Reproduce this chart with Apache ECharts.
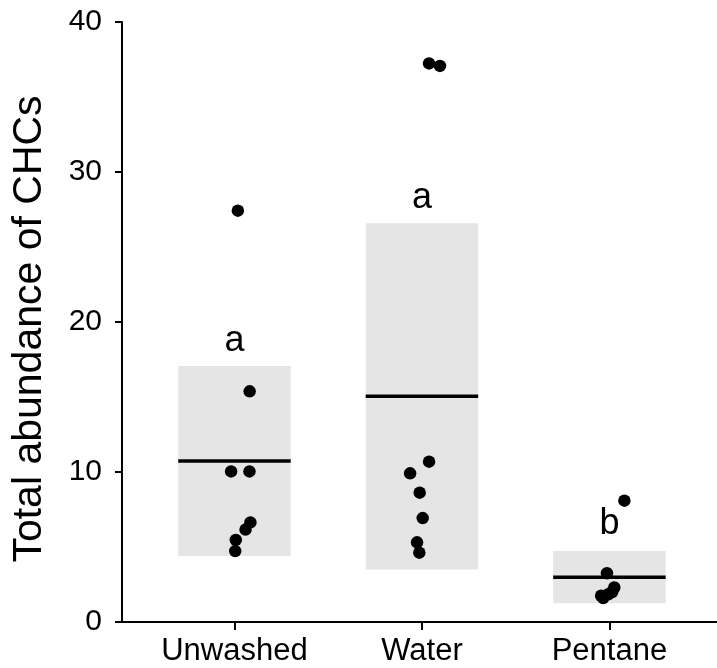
<!DOCTYPE html>
<html>
<head>
<meta charset="utf-8">
<title>Total abundance of CHCs</title>
<script src="https://cdn.jsdelivr.net/npm/echarts@6/dist/echarts.min.js"></script>
<style>
  html, body { margin: 0; padding: 0; background: #ffffff; }
  #chart { width: 717px; height: 668px; }
</style>
</head>
<body>
<div id="chart"></div>
<script>
// Treatment groups, in axis order (x positions 1, 2, 3)
const categories = ['Unwashed', 'Water', 'Pentane'];

// Crossbar summary per group: lower, middle (line), upper
const boxLower = [4.4, 3.5, 1.25];
const boxMiddle = [10.73, 15.05, 2.98];
const boxUpper = [17.07, 26.58, 4.73];

// Individual samples per group with their horizontal jitter
const unwashedValues = [27.42, 15.38, 10.04, 10.04, 6.64, 6.16, 5.47, 4.73];
const unwashedJitter = [0.018, 0.081, -0.018, 0.080, 0.085, 0.059, 0.007, 0.004];
const waterValues = [37.24, 37.07, 10.69, 9.91, 8.62, 6.93, 5.31, 4.62];
const waterJitter = [0.038, 0.096, 0.038, -0.063, -0.012, 0.004, -0.026, -0.014];
const pentaneValues = [8.09, 3.25, 2.3, 2.0, 1.85, 1.75, 1.6];
const pentaneJitter = [0.080, -0.013, 0.026, 0.015, -0.006, -0.044, -0.033];

// Significance letters and where they sit
const groupLetters = ['a', 'a', 'b'];
const letterY = [18.75, 28.25, 6.5];

// Y-axis ticks
const yTicks = [0, 10, 20, 30, 40];

const FONT = '"Liberation Sans", Arial, Helvetica, sans-serif';
const BOX_WIDTH = 0.6;

const pointData = [];
[[unwashedValues, unwashedJitter], [waterValues, waterJitter], [pentaneValues, pentaneJitter]]
  .forEach(([vals, jit], g) => {
    vals.forEach((v, i) => pointData.push([g + 1 + jit[i], v]));
  });

const boxData = categories.map((c, i) => [i + 1, boxLower[i], boxMiddle[i], boxUpper[i]]);
const letterData = categories.map((c, i) => [i + 1, letterY[i], groupLetters[i]]);

const chart = echarts.init(document.getElementById('chart'), null, { renderer: 'canvas' });

chart.setOption({
  animation: false,
  backgroundColor: '#ffffff',
  grid: { left: 122, right: 0, top: 22, bottom: 46, containLabel: false },
  xAxis: {
    type: 'value',
    min: 0.4,
    max: 3.574,
    splitLine: { show: false },
    axisLine: { show: true, onZero: false, lineStyle: { color: '#000', width: 2 } },
    axisTick: { show: true, customValues: [1, 2, 3], length: 8, lineStyle: { color: '#000', width: 2 } },
    axisLabel: {
      show: true,
      customValues: [1, 2, 3],
      formatter: v => categories[Math.round(v) - 1] || '',
      color: '#000',
      fontSize: 31,
      fontFamily: FONT,
      margin: 14
    }
  },
  yAxis: {
    type: 'value',
    min: yTicks[0],
    max: yTicks[yTicks.length - 1],
    interval: 10,
    name: 'Total abundance of CHCs',
    nameLocation: 'middle',
    nameGap: 72,
    nameRotate: 90,
    nameTextStyle: { color: '#000', fontSize: 41, fontFamily: FONT, padding: [0, 14, 0, 0] },
    splitLine: { show: false },
    axisLine: { show: true, lineStyle: { color: '#000', width: 2 } },
    axisTick: { show: true, length: 7, lineStyle: { color: '#000', width: 2 } },
    axisLabel: { color: '#000', fontSize: 30, fontFamily: FONT, margin: 20 }
  },
  series: [
    {
      type: 'custom',
      name: 'crossbar',
      data: boxData,
      encode: { x: 0, y: [1, 2, 3] },
      z: 1,
      renderItem: (params, api) => {
        const x = api.value(0);
        const lo = api.coord([x - BOX_WIDTH / 2, api.value(1)]);
        const hi = api.coord([x + BOX_WIDTH / 2, api.value(3)]);
        const midL = api.coord([x - BOX_WIDTH / 2, api.value(2)]);
        const midR = api.coord([x + BOX_WIDTH / 2, api.value(2)]);
        return {
          type: 'group',
          children: [
            {
              type: 'rect',
              shape: { x: lo[0], y: hi[1], width: hi[0] - lo[0], height: lo[1] - hi[1] },
              style: { fill: '#e5e5e5' }
            },
            {
              type: 'line',
              shape: { x1: midL[0], y1: midL[1], x2: midR[0], y2: midR[1] },
              style: { stroke: '#000', lineWidth: 3.5 }
            }
          ]
        };
      }
    },
    {
      type: 'scatter',
      name: 'samples',
      data: pointData,
      symbol: 'circle',
      symbolSize: 12.5,
      itemStyle: { color: '#000', opacity: 1 },
      z: 3
    },
    {
      type: 'custom',
      name: 'letters',
      data: letterData,
      encode: { x: 0, y: 1 },
      z: 4,
      renderItem: (params, api) => {
        const p = api.coord([api.value(0), api.value(1)]);
        return {
          type: 'text',
          x: p[0],
          y: p[1],
          style: {
            text: groupLetters[params.dataIndex],
            fill: '#000',
            fontSize: 36,
            fontFamily: FONT,
            align: 'center',
            verticalAlign: 'middle'
          }
        };
      }
    }
  ]
});
</script>
</body>
</html>
